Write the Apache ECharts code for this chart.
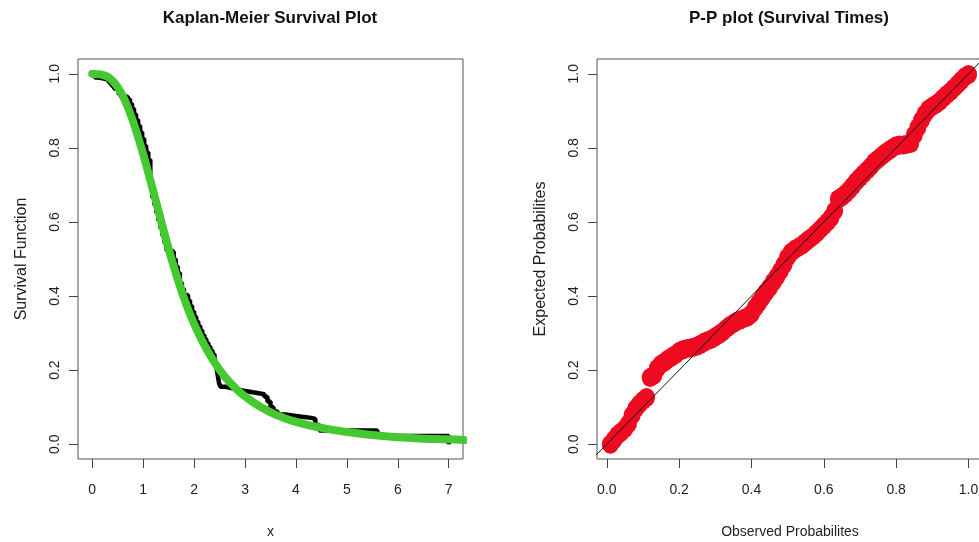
<!DOCTYPE html>
<html><head><meta charset="utf-8">
<script src="https://cdn.jsdelivr.net/npm/echarts@6/dist/echarts.min.js"></script>
<style>html,body{margin:0;padding:0;background:#fff}#c{width:979px;height:542px}</style>
</head><body><div id="c"></div>
<script>
// ---------- data ----------
const kmTitle = 'Kaplan-Meier Survival Plot';
const ppTitle = 'P-P plot (Survival Times)';
const kmXName = 'x';
const kmYName = 'Survival Function';
const ppXName = 'Observed Probabilites';
const ppYName = 'Expected Probabilites';

const kmXTicks = [0, 1, 2, 3, 4, 5, 6, 7];
const kmXTickLabels = ['0', '1', '2', '3', '4', '5', '6', '7'];
const probTicks = [0, 0.2, 0.4, 0.6, 0.8, 1.0];
const probTickLabels = ['0.0', '0.2', '0.4', '0.6', '0.8', '1.0'];

// Kaplan-Meier step estimate (time, survival)
const kmTimes = [0.00, 0.05, 0.12, 0.20, 0.27, 0.33, 0.38, 0.43, 0.48, 0.52, 0.56, 0.70, 0.74, 0.78, 0.82, 0.86, 0.90, 0.94, 0.98, 1.02, 1.06, 1.10, 1.14, 1.18, 1.22, 1.26, 1.30, 1.34, 1.38, 1.42, 1.46, 1.56, 1.60, 1.64, 1.68, 1.72, 1.76, 1.80, 1.88, 1.92, 1.96, 2.00, 2.04, 2.08, 2.12, 2.16, 2.20, 2.24, 2.28, 2.32, 2.36, 2.40, 2.43, 2.46, 2.49, 2.52, 2.62, 2.78, 2.95, 3.15, 3.38, 3.44, 3.50, 3.56, 3.64, 3.80, 3.96, 4.12, 4.30, 4.38, 4.46, 5.60, 7.00];
const kmSurv  = [1.000, 0.990, 0.988, 0.986, 0.982, 0.976, 0.968, 0.960, 0.955, 0.945, 0.938, 0.931, 0.919, 0.906, 0.891, 0.876, 0.860, 0.842, 0.825, 0.806, 0.788, 0.768, 0.700, 0.666, 0.646, 0.625, 0.604, 0.583, 0.563, 0.543, 0.523, 0.518, 0.499, 0.480, 0.462, 0.436, 0.419, 0.403, 0.388, 0.373, 0.358, 0.345, 0.331, 0.319, 0.307, 0.295, 0.284, 0.273, 0.263, 0.253, 0.243, 0.234, 0.215, 0.190, 0.165, 0.155, 0.150, 0.145, 0.140, 0.135, 0.128, 0.115, 0.100, 0.088, 0.080, 0.077, 0.074, 0.071, 0.068, 0.052, 0.037, 0.022, 0.000];

// fitted survival curve (green)
const fitTimes = [0, 0.1, 0.2, 0.3, 0.4, 0.5, 0.6, 0.7, 0.8, 0.9, 1.0, 1.1, 1.2, 1.3, 1.4, 1.5, 1.6, 1.7, 1.8, 1.9, 2.0, 2.2, 2.4, 2.6, 2.8, 3.0, 3.3, 3.6, 4.0, 4.5, 5.0, 5.5, 6.0, 6.5, 7.0, 7.3];
const fitSurv  = [1.000, 0.999, 0.997, 0.992, 0.981, 0.964, 0.940, 0.909, 0.872, 0.829, 0.783, 0.733, 0.682, 0.630, 0.578, 0.528, 0.480, 0.436, 0.395, 0.358, 0.325, 0.268, 0.221, 0.183, 0.153, 0.129, 0.101, 0.080, 0.060, 0.044, 0.033, 0.025, 0.019, 0.015, 0.013, 0.011];

// P-P plot points
const ppObserved = [0.01,0.02,0.03,0.04,0.05,0.06,0.07,0.08,0.09,0.10,0.11,0.12,0.13,0.14,0.15,0.16,0.17,0.18,0.19,0.20,0.21,0.22,0.23,0.24,0.25,0.26,0.27,0.28,0.29,0.30,0.31,0.32,0.33,0.34,0.35,0.36,0.37,0.38,0.39,0.40,0.41,0.42,0.43,0.44,0.45,0.46,0.47,0.48,0.49,0.50,0.51,0.52,0.53,0.54,0.55,0.56,0.57,0.58,0.59,0.60,0.61,0.62,0.63,0.64,0.65,0.66,0.67,0.68,0.69,0.70,0.71,0.72,0.73,0.74,0.75,0.76,0.77,0.78,0.79,0.80,0.81,0.82,0.83,0.84,0.85,0.86,0.87,0.88,0.89,0.90,0.91,0.92,0.93,0.94,0.95,0.96,0.97,0.98,0.99,1.00];
const ppExpected = [0.000,0.012,0.025,0.033,0.042,0.055,0.078,0.096,0.108,0.118,0.126,0.180,0.186,0.205,0.216,0.222,0.230,0.236,0.242,0.250,0.255,0.258,0.260,0.262,0.265,0.270,0.276,0.280,0.284,0.290,0.296,0.303,0.312,0.320,0.326,0.332,0.336,0.340,0.344,0.352,0.368,0.382,0.396,0.410,0.423,0.438,0.452,0.468,0.485,0.505,0.518,0.526,0.532,0.538,0.546,0.554,0.561,0.570,0.580,0.590,0.600,0.612,0.630,0.662,0.668,0.676,0.686,0.698,0.710,0.720,0.730,0.740,0.750,0.762,0.770,0.778,0.786,0.793,0.800,0.806,0.808,0.808,0.810,0.812,0.835,0.855,0.875,0.892,0.905,0.912,0.918,0.925,0.935,0.944,0.952,0.962,0.972,0.982,0.992,0.998];

// reference line y = x
const refLine = [-0.1, 1.1];

// ---------- chart ----------
const FF = '"Liberation Sans", Arial, sans-serif';
const TXT = '#1e1e1e';
const chart = echarts.init(document.getElementById('c'), null, { renderer: 'canvas' });

function labelFor(ticks, labels) {
  return v => { const i = ticks.findIndex(t => Math.abs(t - v) < 1e-9); return i >= 0 ? labels[i] : ''; };
}
function xAxis(gi, min, max, ticks, labels, name) {
  return {
    type: 'value', gridIndex: gi, min, max, name, nameLocation: 'middle', nameGap: 66,
    nameTextStyle: { fontFamily: FF, fontSize: 14, color: TXT },
    axisLine: { show: false, onZero: false },
    axisTick: { show: true, customValues: ticks, length: 9, lineStyle: { color: '#444', width: 1 } },
    axisLabel: { show: true, customValues: ticks, margin: 24, fontFamily: FF, fontSize: 14, color: TXT, formatter: labelFor(ticks, labels) },
    splitLine: { show: false }
  };
}
function yAxis(gi, min, max, ticks, labels, name) {
  return {
    type: 'value', gridIndex: gi, min, max, name, nameLocation: 'middle', nameGap: 48,
    nameTextStyle: { fontFamily: FF, fontSize: 16, color: TXT },
    axisLine: { show: false, onZero: false },
    axisTick: { show: true, customValues: ticks, length: 9, lineStyle: { color: '#444', width: 1 } },
    axisLabel: { show: true, customValues: ticks, rotate: 90, margin: 16, fontFamily: FF, fontSize: 14, color: TXT, formatter: labelFor(ticks, labels) },
    splitLine: { show: false }
  };
}

chart.setOption({
  animation: false,
  backgroundColor: '#fff',
  graphic: [
    { type: 'text', x: 270, y: 18, style: { text: kmTitle, fill: '#111', font: 'bold 17px ' + FF, textAlign: 'center', textVerticalAlign: 'middle' } },
    { type: 'text', x: 789, y: 18, style: { text: ppTitle, fill: '#111', font: 'bold 17px ' + FF, textAlign: 'center', textVerticalAlign: 'middle' } }
  ],
  grid: [
    { left: 78, top: 59, width: 385, height: 400, containLabel: false, outerBoundsMode: 'none', show: true, borderColor: '#555', borderWidth: 1, backgroundColor: 'transparent' },
    { left: 597, top: 59, width: 386, height: 400, containLabel: false, outerBoundsMode: 'none', show: true, borderColor: '#555', borderWidth: 1, backgroundColor: 'transparent' }
  ],
  xAxis: [
    xAxis(0, -0.28, 7.28, kmXTicks, kmXTickLabels, kmXName),
    xAxis(1, -0.027, 1.04, probTicks, probTickLabels, ppXName)
  ],
  yAxis: [
    yAxis(0, -0.04, 1.04, probTicks, probTickLabels, kmYName),
    yAxis(1, -0.04, 1.04, probTicks, probTickLabels, ppYName)
  ],
  series: [
    {
      type: 'line', xAxisIndex: 0, yAxisIndex: 0, step: 'end', showSymbol: false, silent: true, z: 2,
      data: kmTimes.map((t, i) => [t, kmSurv[i]]),
      lineStyle: { color: '#000', width: 4.5 }
    },
    {
      type: 'line', xAxisIndex: 0, yAxisIndex: 0, smooth: true, showSymbol: false, silent: true, z: 3,
      data: fitTimes.map((t, i) => [t, fitSurv[i]]),
      lineStyle: { color: '#46C832', width: 8, cap: 'round' }
    },
    {
      type: 'scatter', xAxisIndex: 1, yAxisIndex: 1, silent: true, z: 2,
      symbol: 'circle', symbolSize: [17, 19],
      data: ppObserved.map((p, i) => [p, ppExpected[i]]),
      itemStyle: { color: '#EE0B22', opacity: 1 }
    },
    {
      type: 'line', xAxisIndex: 1, yAxisIndex: 1, showSymbol: false, silent: true, z: 4,
      data: refLine.map(v => [v, v]),
      lineStyle: { color: '#111', width: 1 }
    }
  ]
});
</script>
</body></html>
